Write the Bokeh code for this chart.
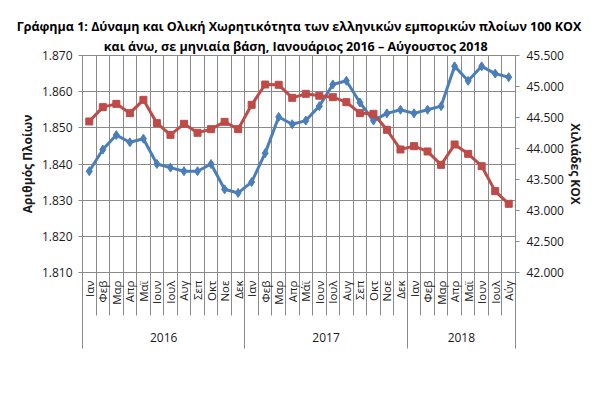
import math
from bokeh.plotting import figure
from bokeh.models import (Range1d, LinearAxis, FixedTicker, Legend, LegendItem, Title)
from bokeh.embed import file_html
from bokeh.resources import INLINE

# ---------------- data ----------------
months = ["Ιαν", "Φεβ", "Μαρ", "Απρ", "Μαϊ", "Ιουν", "Ιουλ", "Αυγ", "Σεπ", "Οκτ", "Νοε", "Δεκ",
          "Ιαν", "Φεβ", "Μαρ", "Απρ", "Μάϊ", "Ιουν", "Ιουλ", "Αυγ", "Σεπ", "Οκτ", "Νοε", "Δεκ",
          "Ιαν", "Φεβ", "Μαρ", "Απρ", "Μαϊ", "Ιουν", "Ιουλ", "Αύγ"]
years = ["2016", "2017", "2018"]
year_counts = [12, 12, 8]
ships = [1838, 1844, 1848, 1846, 1847, 1840, 1839, 1838, 1838, 1840, 1833, 1832,
         1835, 1843, 1853, 1851, 1852, 1856, 1862, 1863, 1857, 1852, 1854, 1855,
         1854, 1855, 1856, 1867, 1863, 1867, 1865, 1864]
capacity = [44436, 44667, 44720, 44570, 44785, 44409, 44220, 44398, 44253, 44312, 44430, 44312,
            44704, 45032, 45027, 44817, 44882, 44852, 44828, 44747, 44570, 44559, 44301, 43984,
            44038, 43952, 43736, 44065, 43914, 43715, 43312, 43108]
left_ticks = [1810, 1820, 1830, 1840, 1850, 1860, 1870]
right_ticks = [42000, 42500, 43000, 43500, 44000, 44500, 45000, 45500]
title_1 = "Γράφημα 1: Δύναμη και Ολική Χωρητικότητα των ελληνικών εμπορικών πλοίων 100 ΚΟΧ"
title_2 = "και άνω, σε μηνιαία βάση, Ιανουάριος  2016 – Αύγουστος  2018"
left_label = "Αριθμός Πλοίων"
right_label = "Χιλιάδες ΚΟΧ"
series_names = ["Αριθμός πλοίων", "Χωρητικότητα"]


def fmt(v):
    return f"{v:,}".replace(",", ".")


# ---------------- style ----------------
FONT = "Open Sans"
BLUE = "#4A7EBB"
RED = "#BE4B48"
GRID = "#8a8a8a"
TXT = "#1a1a1a"

n = len(months)
x = list(range(n))
bounds = [k - 0.5 for k in range(n + 1)]
year_bounds = [-0.5]
year_centers = []
acc = 0
for c in year_counts:
    year_centers.append(acc + (c - 1) / 2)
    acc += c
    year_bounds.append(acc - 0.5)

p = figure(frame_width=433, frame_height=217, output_backend="svg", toolbar_location=None,
           x_range=Range1d(-0.5, n - 0.5), y_range=Range1d(left_ticks[0], left_ticks[-1]),
           min_border_left=75, min_border_right=73, min_border_top=55, min_border_bottom=112,
           title=title_1, margin=(0, 0, 0, 7))
p.background_fill_color = "white"
p.border_fill_color = "white"
p.outline_line_color = GRID

# titles (the added one sits closer to the frame)
p.title.align = "center"
p.title.text_font = FONT
p.title.text_font_size = "12.5px"
p.title.text_font_style = "bold"
p.title.text_color = "black"
p.title.standoff = 0
p.add_layout(Title(text=title_2, align="center", text_font=FONT, text_font_size="12.5px",
                   text_font_style="bold", text_color="black", standoff=2), "above")

p.extra_y_ranges = {"cap": Range1d(right_ticks[0], right_ticks[-1])}

ya = p.yaxis[0]
ya.ticker = FixedTicker(ticks=left_ticks)
ya.major_label_overrides = {t: fmt(t) for t in left_ticks}
ya.axis_label = left_label

ra = LinearAxis(y_range_name="cap", ticker=FixedTicker(ticks=right_ticks),
                major_label_overrides={t: fmt(t) for t in right_ticks},
                axis_label=right_label)
p.add_layout(ra, "right")

for ax in (ya, ra):
    ax.axis_line_color = GRID
    ax.major_tick_line_color = GRID
    ax.major_tick_out = 4
    ax.major_tick_in = 0
    ax.minor_tick_line_color = None
    ax.major_label_text_font = FONT
    ax.major_label_text_font_size = "12px"
    ax.major_label_text_color = TXT
    ax.major_label_standoff = 6
    ax.axis_label_text_font = FONT
    ax.axis_label_text_font_size = "12px"
    ax.axis_label_text_font_style = "bold"
    ax.axis_label_text_color = TXT
ya.axis_label_standoff = 3
ra.axis_label_standoff = 0
ra.major_label_standoff = 7

# month axis: labels at centres, separators (minor ticks) at month boundaries
xa = p.xaxis[0]
xa.ticker = FixedTicker(ticks=x, minor_ticks=bounds)
xa.major_label_overrides = {i: m for i, m in zip(x, months)}
xa.major_label_orientation = math.pi / 2
xa.major_label_text_font = FONT
xa.major_label_text_font_size = "11.5px"
xa.major_label_text_color = TXT
xa.major_label_standoff = 8
xa.major_tick_out = 0
xa.major_tick_in = 0
xa.major_tick_line_color = None
xa.minor_tick_out = 0
xa.minor_tick_in = -43
xa.minor_tick_line_color = GRID
xa.axis_line_color = GRID

# year axis
ya2 = LinearAxis(ticker=FixedTicker(ticks=year_centers, minor_ticks=year_bounds),
                 major_label_overrides={c: y for c, y in zip(year_centers, years)})
ya2.axis_line_color = None
ya2.major_tick_line_color = None
ya2.major_tick_out = 0
ya2.major_tick_in = 0
ya2.minor_tick_out = 0
ya2.minor_tick_in = -41
ya2.minor_tick_line_color = GRID
ya2.major_label_text_font = FONT
ya2.major_label_text_font_size = "12px"
ya2.major_label_text_color = TXT
ya2.major_label_standoff = 25
p.add_layout(ya2, "below")

p.xgrid.ticker = FixedTicker(ticks=bounds)
p.xgrid.grid_line_color = GRID
p.ygrid.grid_line_color = GRID

l1 = p.line(x, ships, line_color=BLUE, line_width=3)
s1 = p.scatter(x, ships, marker="diamond", size=9, fill_color=BLUE, line_color=BLUE)
l2 = p.line(x, capacity, line_color=RED, line_width=3, y_range_name="cap")
s2 = p.scatter(x, capacity, marker="square", size=7, fill_color=RED, line_color=RED,
               y_range_name="cap")

# legend below the year row (offset from the frame's bottom-left corner)
legend = Legend(items=[LegendItem(label=series_names[0], renderers=[l1, s1]),
                       LegendItem(label=series_names[1], renderers=[l2, s2])],
                orientation="horizontal", location=(100, -101),
                border_line_color=None, background_fill_alpha=0,
                glyph_width=28, glyph_height=12, label_standoff=3, spacing=14,
                label_text_font=FONT, label_text_font_size="11.5px", label_text_color=TXT,
                padding=2, margin=0)
p.add_layout(legend)

open("out.html", "w").write(file_html(p, INLINE))
